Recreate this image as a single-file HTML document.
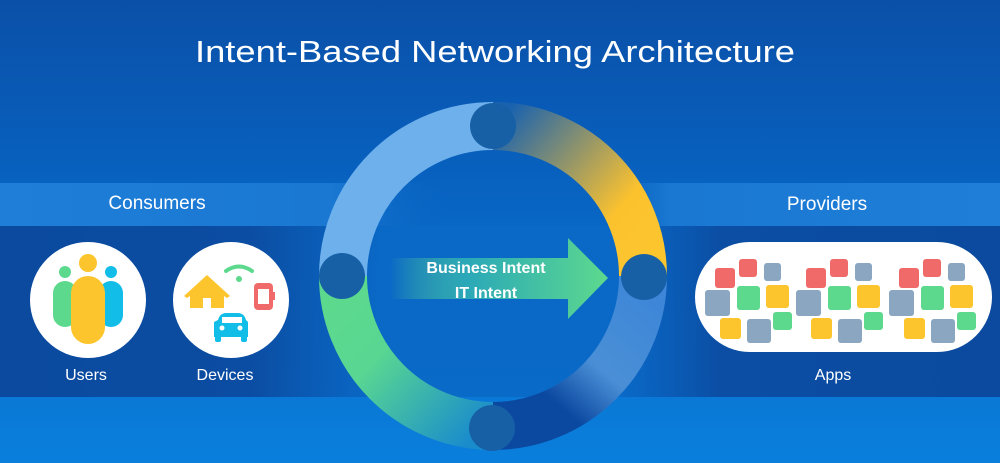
<!DOCTYPE html>
<html><head><meta charset="utf-8"><style>
html,body{margin:0;padding:0;width:1000px;height:463px;overflow:hidden;background:#0a62bd}
svg{display:block}
text{font-family:"Liberation Sans",sans-serif;fill:#fff}
</style></head><body>
<svg width="1000" height="463" viewBox="0 0 1000 463" xmlns="http://www.w3.org/2000/svg">
<defs>
<linearGradient id="bg" x1="0" y1="0" x2="0" y2="1">
<stop offset="0" stop-color="#0a50a8"/><stop offset="0.4" stop-color="#0862c0"/><stop offset="1" stop-color="#0a7fdc"/>
</linearGradient>
<linearGradient id="dark" x1="0" y1="0" x2="1" y2="0">
<stop offset="0" stop-color="#0b4a9e"/><stop offset="0.25" stop-color="#0b4da2"/><stop offset="0.38" stop-color="#0a68c6" stop-opacity="0.9"/><stop offset="0.62" stop-color="#0a68c6" stop-opacity="0.9"/><stop offset="0.72" stop-color="#0b4ea4"/><stop offset="1" stop-color="#0b4a9e"/>
</linearGradient>
<linearGradient id="light" x1="0" y1="0" x2="1" y2="0">
<stop offset="0" stop-color="#1e7ed8"/><stop offset="0.33" stop-color="#1a78d2"/><stop offset="0.45" stop-color="#0a66c2" stop-opacity="0"/><stop offset="0.6" stop-color="#0a66c2" stop-opacity="0"/><stop offset="0.67" stop-color="#1a78d2"/><stop offset="1" stop-color="#1e7ed8"/>
</linearGradient>
<linearGradient id="tr" gradientUnits="userSpaceOnUse" x1="500" y1="120" x2="650" y2="250">
<stop offset="0" stop-color="#1a62ae"/><stop offset="0.75" stop-color="#fcc22e"/><stop offset="1" stop-color="#fcc52e"/>
</linearGradient>
<linearGradient id="br" gradientUnits="userSpaceOnUse" x1="650" y1="290" x2="530" y2="430">
<stop offset="0" stop-color="#3d86d8"/><stop offset="0.5" stop-color="#4a8fd6"/><stop offset="0.8" stop-color="#0b48a0"/><stop offset="1" stop-color="#0b48a0"/>
</linearGradient>
<linearGradient id="bl" gradientUnits="userSpaceOnUse" x1="340" y1="300" x2="480" y2="430">
<stop offset="0" stop-color="#5dd98e"/><stop offset="0.35" stop-color="#58d692"/><stop offset="1" stop-color="#1a8ccc"/>
</linearGradient>
<linearGradient id="arr" x1="0" y1="0" x2="1" y2="0">
<stop offset="0" stop-color="#5dd98e" stop-opacity="0"/><stop offset="0.35" stop-color="#2aa8b8"/><stop offset="1" stop-color="#5dd98e"/>
</linearGradient>
</defs>
<rect width="1000" height="463" fill="url(#bg)"/>
<rect x="0" y="183" width="1000" height="43" fill="url(#light)"/>
<rect x="0" y="226" width="1000" height="171" fill="url(#dark)"/>
<text x="495" y="62" font-size="31" text-anchor="middle" textLength="600" lengthAdjust="spacingAndGlyphs">Intent-Based Networking Architecture</text>

<!-- ring -->
<g fill="none" stroke-width="48">
<path d="M343 276 A150 150 0 0 1 493 126" stroke="#6db0ec"/>
<path d="M493 126 A150 150 0 0 1 643 276" stroke="url(#tr)"/>
<path d="M643 276 A150 150 0 0 1 493 426" stroke="url(#br)"/>
<path d="M493 426 A150 150 0 0 1 343 276" stroke="url(#bl)"/>
</g>
<g fill="#1760a6">
<circle cx="493" cy="126" r="23"/><circle cx="342" cy="276" r="23"/><circle cx="644" cy="277" r="23"/><circle cx="492" cy="428" r="23"/>
</g>
<path d="M390 258 H568 V238 L608 278 L568 319 V299 H390 Z" fill="url(#arr)"/>
<text x="486" y="273" font-size="16" font-weight="bold" text-anchor="middle" fill="#eef">Business Intent</text>
<text x="486" y="298" font-size="16" font-weight="bold" text-anchor="middle" fill="#eef">IT Intent</text>

<!-- consumers -->
<text x="157" y="209" font-size="19" text-anchor="middle">Consumers</text>
<circle cx="88" cy="300" r="58" fill="#fff"/>
<circle cx="65" cy="272" r="6" fill="#5dd98e"/>
<rect x="53" y="281" width="24" height="46" rx="12" fill="#5dd98e"/>
<circle cx="111" cy="272" r="6" fill="#12bde8"/>
<rect x="99" y="281" width="24" height="46" rx="12" fill="#12bde8"/>
<circle cx="88" cy="263" r="9" fill="#fcc52e"/>
<rect x="71" y="276" width="34" height="68" rx="17" fill="#fcc52e"/>
<text x="86" y="380" font-size="16" text-anchor="middle">Users</text>

<circle cx="231" cy="300" r="58" fill="#fff"/>
<path d="M184 296 L207 275 L230 296 L227 298 L224 296 V308 H190 V296 L187 298 Z" fill="#fcc52e"/>
<rect x="203" y="298" width="8" height="10" fill="#fff"/>
<path d="M226 271 Q239 262 252 271" stroke="#5dd98e" stroke-width="4" fill="none" stroke-linecap="round"/>
<circle cx="239" cy="279" r="3" fill="#5dd98e"/>
<rect x="254" y="283" width="19" height="27" rx="4" fill="#f06a6a"/>
<rect x="258" y="289" width="11" height="15" fill="#fff"/>
<rect x="272" y="292" width="3" height="8" fill="#f06a6a"/>
<path d="M218 320 Q220 313 226 313 H238 Q244 313 246 320 L248 322 V337 H214 V322 Z" fill="#12bde8"/>
<rect x="215" y="335" width="6" height="7" rx="2" fill="#12bde8"/><rect x="241" y="335" width="6" height="7" rx="2" fill="#12bde8"/>
<rect x="222" y="317" width="20" height="6" fill="#fff"/>
<circle cx="222" cy="328" r="2.5" fill="#fff"/><circle cx="240" cy="328" r="2.5" fill="#fff"/>
<text x="225" y="380" font-size="16" text-anchor="middle">Devices</text>

<!-- providers -->
<text x="827" y="210" font-size="19" text-anchor="middle">Providers</text>
<rect x="695" y="242" width="297" height="110" rx="55" fill="#fff"/>
<g id="g1">
<rect x="715" y="268" width="20" height="20" rx="3" fill="#f06a6a"/>
<rect x="739" y="259" width="18" height="18" rx="3" fill="#f06a6a"/>
<rect x="764" y="263" width="17" height="18" rx="3" fill="#8aa6c0"/>
<rect x="705" y="290" width="25" height="26" rx="3" fill="#8aa6c0"/>
<rect x="737" y="286" width="23" height="24" rx="3" fill="#5dd98e"/>
<rect x="766" y="285" width="23" height="23" rx="3" fill="#fcc52e"/>
<rect x="720" y="318" width="21" height="21" rx="3" fill="#fcc52e"/>
<rect x="747" y="319" width="24" height="24" rx="3" fill="#8aa6c0"/>
<rect x="773" y="312" width="19" height="18" rx="3" fill="#5dd98e"/>
</g>
<use href="#g1" x="91"/>
<use href="#g1" x="184"/>
<text x="833" y="380" font-size="16" text-anchor="middle">Apps</text>
</svg>
</body></html>
